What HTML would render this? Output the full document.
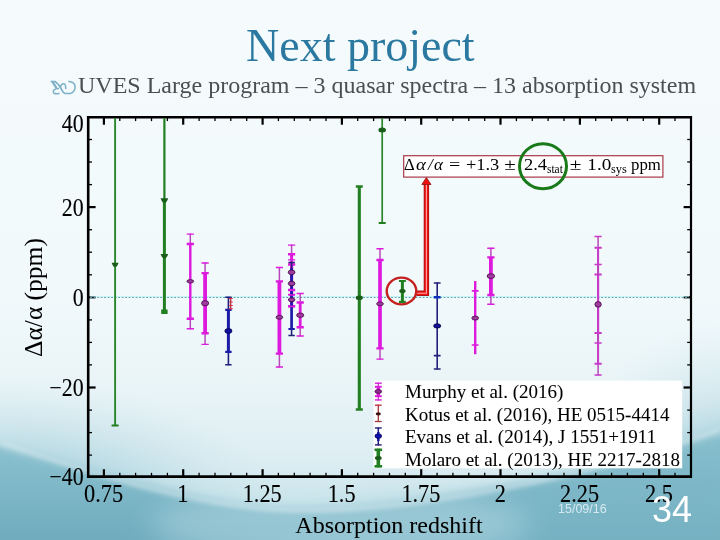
<!DOCTYPE html>
<html><head><meta charset="utf-8"><style>
html,body{margin:0;padding:0;}
body{width:720px;height:540px;position:relative;overflow:hidden;background:#f4fafc;}
.t{position:absolute;white-space:nowrap;line-height:1;will-change:transform;}
svg{will-change:transform;}
</style></head><body>

<svg width="720" height="540" style="position:absolute;left:0;top:0">
<defs>
<linearGradient id="g0" x1="0" y1="0" x2="0" y2="1">
 <stop offset="0" stop-color="#f5fbfd"/>
 <stop offset="0.55" stop-color="#f1f9fb"/>
 <stop offset="0.72" stop-color="#e9f4f7"/>
 <stop offset="0.86" stop-color="#dcedf2"/>
 <stop offset="1" stop-color="#c4e1e8"/>
</linearGradient>
<linearGradient id="g1" x1="0" y1="430" x2="0" y2="540" gradientUnits="userSpaceOnUse">
 <stop offset="0" stop-color="#8fc4d1"/>
 <stop offset="0.5" stop-color="#7fb8c8"/>
 <stop offset="1" stop-color="#6eabbe"/>
</linearGradient>
<radialGradient id="rg" cx="0" cy="540" r="300" gradientUnits="userSpaceOnUse" gradientTransform="translate(0,540) scale(1.0,0.55) translate(0,-540)">
 <stop offset="0" stop-color="#76b2c4" stop-opacity="0.9"/>
 <stop offset="0.5" stop-color="#98c9d6" stop-opacity="0.6"/>
 <stop offset="1" stop-color="#c8e3ea" stop-opacity="0"/>
</radialGradient>
<radialGradient id="rg2" cx="720" cy="540" r="240" gradientUnits="userSpaceOnUse" gradientTransform="translate(720,540) scale(0.7,0.9) translate(-720,-540)">
 <stop offset="0" stop-color="#78b3c4" stop-opacity="0.8"/>
 <stop offset="0.6" stop-color="#a5d0db" stop-opacity="0.4"/>
 <stop offset="1" stop-color="#c8e3ea" stop-opacity="0"/>
</radialGradient>
<filter id="bl" x="-10%" y="-20%" width="120%" height="140%"><feGaussianBlur stdDeviation="5"/></filter>
<filter id="bl2" x="-30%" y="-80%" width="160%" height="260%"><feGaussianBlur stdDeviation="14"/></filter>
<filter id="bl3" x="-10%" y="-20%" width="120%" height="140%"><feGaussianBlur stdDeviation="2"/></filter>
</defs>
<rect width="720" height="540" fill="url(#g0)"/>
<rect width="720" height="540" fill="url(#rg)"/>
<rect width="720" height="540" fill="url(#rg2)"/>
<path d="M-20,441 C100,474 190,503 280,508 C390,513 560,484 740,428 L740,560 L-20,560 Z" fill="url(#g1)" filter="url(#bl)"/>
<path d="M200,540 C300,530 420,500 520,488 C600,478 660,455 740,425 L740,560 L200,560 Z" fill="#7db7c7" opacity="0.5" filter="url(#bl2)"/>
<ellipse cx="340" cy="525" rx="190" ry="38" fill="#bfe0e8" opacity="0.45" filter="url(#bl2)"/>
<path d="M0,443 C100,476 190,505 280,510 C390,515 560,486 720,430" fill="none" stroke="#ffffff" stroke-width="3" opacity="0.4" filter="url(#bl3)"/>
</svg>

<div class="t" id="title" style="left:245.5px;top:23px;font-family:'Liberation Serif',serif;font-size:46px;color:#2b79a0;">Next project</div>
<div class="t" id="sub" style="left:78px;top:73.2px;font-family:'Liberation Serif',serif;font-size:24px;color:#4b4f50;">UVES Large program – 3 quasar spectra – 13 absorption system</div>
<svg width="32" height="20" style="position:absolute;left:48px;top:76.8px" viewBox="0 0 32 20"><g fill="none" stroke="#7cb0c7" stroke-width="1.55" stroke-linecap="round" stroke-linejoin="round"><path d="M3.2,4.4 L7.4,4.4"/><path d="M4.6,4.8 L8.2,10.6" stroke-width="2.2"/><path d="M7.4,4.9 C10,6.5 12,9 13.6,12.6 C14.6,14.8 15.8,16.3 17.4,16.4 L22.2,16.4 C25.6,16 27.3,12.5 27.1,9.6 C26.9,6.6 24.6,4.6 20.9,4.4"/><path d="M12.4,10.2 C12.6,7.4 14.8,6.4 16.4,6.9 C17.4,7.3 17.7,8.4 17.7,11.4"/><path d="M10.4,11.6 C7.2,11.8 4.8,13.2 5.3,15.2 C5.8,16.8 8.4,16.9 11,16.5"/></g></svg>
<svg width="720" height="540" style="position:absolute;left:0;top:0"><line x1="88.2" y1="116.1" x2="88.2" y2="477.8" stroke="#000" stroke-width="2.6"/><line x1="87.0" y1="117.3" x2="692.0" y2="117.3" stroke="#000" stroke-width="2.6"/><line x1="691.0" y1="116.1" x2="691.0" y2="477.8" stroke="#000" stroke-width="2.2"/><line x1="87.0" y1="476.6" x2="692.0" y2="476.6" stroke="#000" stroke-width="2.6"/><line x1="103.9" y1="476.6" x2="103.9" y2="469.20000000000005" stroke="#000" stroke-width="2.2"/><line x1="103.9" y1="117.3" x2="103.9" y2="124.7" stroke="#000" stroke-width="2.2"/><line x1="119.8" y1="476.6" x2="119.8" y2="472.8" stroke="#000" stroke-width="1.3"/><line x1="119.8" y1="117.3" x2="119.8" y2="121.1" stroke="#000" stroke-width="1.3"/><line x1="135.6" y1="476.6" x2="135.6" y2="472.8" stroke="#000" stroke-width="1.3"/><line x1="135.6" y1="117.3" x2="135.6" y2="121.1" stroke="#000" stroke-width="1.3"/><line x1="151.5" y1="476.6" x2="151.5" y2="472.8" stroke="#000" stroke-width="1.3"/><line x1="151.5" y1="117.3" x2="151.5" y2="121.1" stroke="#000" stroke-width="1.3"/><line x1="167.4" y1="476.6" x2="167.4" y2="472.8" stroke="#000" stroke-width="1.3"/><line x1="167.4" y1="117.3" x2="167.4" y2="121.1" stroke="#000" stroke-width="1.3"/><line x1="183.2" y1="476.6" x2="183.2" y2="469.20000000000005" stroke="#000" stroke-width="2.2"/><line x1="183.2" y1="117.3" x2="183.2" y2="124.7" stroke="#000" stroke-width="2.2"/><line x1="199.1" y1="476.6" x2="199.1" y2="472.8" stroke="#000" stroke-width="1.3"/><line x1="199.1" y1="117.3" x2="199.1" y2="121.1" stroke="#000" stroke-width="1.3"/><line x1="215.0" y1="476.6" x2="215.0" y2="472.8" stroke="#000" stroke-width="1.3"/><line x1="215.0" y1="117.3" x2="215.0" y2="121.1" stroke="#000" stroke-width="1.3"/><line x1="230.8" y1="476.6" x2="230.8" y2="472.8" stroke="#000" stroke-width="1.3"/><line x1="230.8" y1="117.3" x2="230.8" y2="121.1" stroke="#000" stroke-width="1.3"/><line x1="246.7" y1="476.6" x2="246.7" y2="472.8" stroke="#000" stroke-width="1.3"/><line x1="246.7" y1="117.3" x2="246.7" y2="121.1" stroke="#000" stroke-width="1.3"/><line x1="262.6" y1="476.6" x2="262.6" y2="469.20000000000005" stroke="#000" stroke-width="2.2"/><line x1="262.6" y1="117.3" x2="262.6" y2="124.7" stroke="#000" stroke-width="2.2"/><line x1="278.4" y1="476.6" x2="278.4" y2="472.8" stroke="#000" stroke-width="1.3"/><line x1="278.4" y1="117.3" x2="278.4" y2="121.1" stroke="#000" stroke-width="1.3"/><line x1="294.3" y1="476.6" x2="294.3" y2="472.8" stroke="#000" stroke-width="1.3"/><line x1="294.3" y1="117.3" x2="294.3" y2="121.1" stroke="#000" stroke-width="1.3"/><line x1="310.1" y1="476.6" x2="310.1" y2="472.8" stroke="#000" stroke-width="1.3"/><line x1="310.1" y1="117.3" x2="310.1" y2="121.1" stroke="#000" stroke-width="1.3"/><line x1="326.0" y1="476.6" x2="326.0" y2="472.8" stroke="#000" stroke-width="1.3"/><line x1="326.0" y1="117.3" x2="326.0" y2="121.1" stroke="#000" stroke-width="1.3"/><line x1="341.9" y1="476.6" x2="341.9" y2="469.20000000000005" stroke="#000" stroke-width="2.2"/><line x1="341.9" y1="117.3" x2="341.9" y2="124.7" stroke="#000" stroke-width="2.2"/><line x1="357.7" y1="476.6" x2="357.7" y2="472.8" stroke="#000" stroke-width="1.3"/><line x1="357.7" y1="117.3" x2="357.7" y2="121.1" stroke="#000" stroke-width="1.3"/><line x1="373.6" y1="476.6" x2="373.6" y2="472.8" stroke="#000" stroke-width="1.3"/><line x1="373.6" y1="117.3" x2="373.6" y2="121.1" stroke="#000" stroke-width="1.3"/><line x1="389.5" y1="476.6" x2="389.5" y2="472.8" stroke="#000" stroke-width="1.3"/><line x1="389.5" y1="117.3" x2="389.5" y2="121.1" stroke="#000" stroke-width="1.3"/><line x1="405.3" y1="476.6" x2="405.3" y2="472.8" stroke="#000" stroke-width="1.3"/><line x1="405.3" y1="117.3" x2="405.3" y2="121.1" stroke="#000" stroke-width="1.3"/><line x1="421.2" y1="476.6" x2="421.2" y2="469.20000000000005" stroke="#000" stroke-width="2.2"/><line x1="421.2" y1="117.3" x2="421.2" y2="124.7" stroke="#000" stroke-width="2.2"/><line x1="437.1" y1="476.6" x2="437.1" y2="472.8" stroke="#000" stroke-width="1.3"/><line x1="437.1" y1="117.3" x2="437.1" y2="121.1" stroke="#000" stroke-width="1.3"/><line x1="452.9" y1="476.6" x2="452.9" y2="472.8" stroke="#000" stroke-width="1.3"/><line x1="452.9" y1="117.3" x2="452.9" y2="121.1" stroke="#000" stroke-width="1.3"/><line x1="468.8" y1="476.6" x2="468.8" y2="472.8" stroke="#000" stroke-width="1.3"/><line x1="468.8" y1="117.3" x2="468.8" y2="121.1" stroke="#000" stroke-width="1.3"/><line x1="484.7" y1="476.6" x2="484.7" y2="472.8" stroke="#000" stroke-width="1.3"/><line x1="484.7" y1="117.3" x2="484.7" y2="121.1" stroke="#000" stroke-width="1.3"/><line x1="500.5" y1="476.6" x2="500.5" y2="469.20000000000005" stroke="#000" stroke-width="2.2"/><line x1="500.5" y1="117.3" x2="500.5" y2="124.7" stroke="#000" stroke-width="2.2"/><line x1="516.4" y1="476.6" x2="516.4" y2="472.8" stroke="#000" stroke-width="1.3"/><line x1="516.4" y1="117.3" x2="516.4" y2="121.1" stroke="#000" stroke-width="1.3"/><line x1="532.3" y1="476.6" x2="532.3" y2="472.8" stroke="#000" stroke-width="1.3"/><line x1="532.3" y1="117.3" x2="532.3" y2="121.1" stroke="#000" stroke-width="1.3"/><line x1="548.1" y1="476.6" x2="548.1" y2="472.8" stroke="#000" stroke-width="1.3"/><line x1="548.1" y1="117.3" x2="548.1" y2="121.1" stroke="#000" stroke-width="1.3"/><line x1="564.0" y1="476.6" x2="564.0" y2="472.8" stroke="#000" stroke-width="1.3"/><line x1="564.0" y1="117.3" x2="564.0" y2="121.1" stroke="#000" stroke-width="1.3"/><line x1="579.9" y1="476.6" x2="579.9" y2="469.20000000000005" stroke="#000" stroke-width="2.2"/><line x1="579.9" y1="117.3" x2="579.9" y2="124.7" stroke="#000" stroke-width="2.2"/><line x1="595.7" y1="476.6" x2="595.7" y2="472.8" stroke="#000" stroke-width="1.3"/><line x1="595.7" y1="117.3" x2="595.7" y2="121.1" stroke="#000" stroke-width="1.3"/><line x1="611.6" y1="476.6" x2="611.6" y2="472.8" stroke="#000" stroke-width="1.3"/><line x1="611.6" y1="117.3" x2="611.6" y2="121.1" stroke="#000" stroke-width="1.3"/><line x1="627.4" y1="476.6" x2="627.4" y2="472.8" stroke="#000" stroke-width="1.3"/><line x1="627.4" y1="117.3" x2="627.4" y2="121.1" stroke="#000" stroke-width="1.3"/><line x1="643.3" y1="476.6" x2="643.3" y2="472.8" stroke="#000" stroke-width="1.3"/><line x1="643.3" y1="117.3" x2="643.3" y2="121.1" stroke="#000" stroke-width="1.3"/><line x1="659.2" y1="476.6" x2="659.2" y2="469.20000000000005" stroke="#000" stroke-width="2.2"/><line x1="659.2" y1="117.3" x2="659.2" y2="124.7" stroke="#000" stroke-width="2.2"/><line x1="675.0" y1="476.6" x2="675.0" y2="472.8" stroke="#000" stroke-width="1.3"/><line x1="675.0" y1="117.3" x2="675.0" y2="121.1" stroke="#000" stroke-width="1.3"/><line x1="88.2" y1="455.1" x2="92.0" y2="455.1" stroke="#000" stroke-width="1.3"/><line x1="691.0" y1="455.1" x2="687.2" y2="455.1" stroke="#000" stroke-width="1.3"/><line x1="88.2" y1="432.6" x2="92.0" y2="432.6" stroke="#000" stroke-width="1.3"/><line x1="691.0" y1="432.6" x2="687.2" y2="432.6" stroke="#000" stroke-width="1.3"/><line x1="88.2" y1="410.1" x2="92.0" y2="410.1" stroke="#000" stroke-width="1.3"/><line x1="691.0" y1="410.1" x2="687.2" y2="410.1" stroke="#000" stroke-width="1.3"/><line x1="88.2" y1="387.5" x2="95.60000000000001" y2="387.5" stroke="#000" stroke-width="2.2"/><line x1="691.0" y1="387.5" x2="683.6" y2="387.5" stroke="#000" stroke-width="2.2"/><line x1="88.2" y1="364.9" x2="92.0" y2="364.9" stroke="#000" stroke-width="1.3"/><line x1="691.0" y1="364.9" x2="687.2" y2="364.9" stroke="#000" stroke-width="1.3"/><line x1="88.2" y1="342.4" x2="92.0" y2="342.4" stroke="#000" stroke-width="1.3"/><line x1="691.0" y1="342.4" x2="687.2" y2="342.4" stroke="#000" stroke-width="1.3"/><line x1="88.2" y1="319.9" x2="92.0" y2="319.9" stroke="#000" stroke-width="1.3"/><line x1="691.0" y1="319.9" x2="687.2" y2="319.9" stroke="#000" stroke-width="1.3"/><line x1="88.2" y1="297.3" x2="95.60000000000001" y2="297.3" stroke="#000" stroke-width="2.2"/><line x1="691.0" y1="297.3" x2="683.6" y2="297.3" stroke="#000" stroke-width="2.2"/><line x1="88.2" y1="274.8" x2="92.0" y2="274.8" stroke="#000" stroke-width="1.3"/><line x1="691.0" y1="274.8" x2="687.2" y2="274.8" stroke="#000" stroke-width="1.3"/><line x1="88.2" y1="252.2" x2="92.0" y2="252.2" stroke="#000" stroke-width="1.3"/><line x1="691.0" y1="252.2" x2="687.2" y2="252.2" stroke="#000" stroke-width="1.3"/><line x1="88.2" y1="229.7" x2="92.0" y2="229.7" stroke="#000" stroke-width="1.3"/><line x1="691.0" y1="229.7" x2="687.2" y2="229.7" stroke="#000" stroke-width="1.3"/><line x1="88.2" y1="207.1" x2="95.60000000000001" y2="207.1" stroke="#000" stroke-width="2.2"/><line x1="691.0" y1="207.1" x2="683.6" y2="207.1" stroke="#000" stroke-width="2.2"/><line x1="88.2" y1="184.6" x2="92.0" y2="184.6" stroke="#000" stroke-width="1.3"/><line x1="691.0" y1="184.6" x2="687.2" y2="184.6" stroke="#000" stroke-width="1.3"/><line x1="88.2" y1="162.0" x2="92.0" y2="162.0" stroke="#000" stroke-width="1.3"/><line x1="691.0" y1="162.0" x2="687.2" y2="162.0" stroke="#000" stroke-width="1.3"/><line x1="88.2" y1="139.5" x2="92.0" y2="139.5" stroke="#000" stroke-width="1.3"/><line x1="691.0" y1="139.5" x2="687.2" y2="139.5" stroke="#000" stroke-width="1.3"/><line x1="90.2" y1="296.6" x2="689.0" y2="296.6" stroke="#a8eef6" stroke-width="1" opacity="0.6"/><line x1="90.2" y1="297.5" x2="689.0" y2="297.5" stroke="#5aa6ae" stroke-width="1" stroke-dasharray="1.8 1.7"/><text transform="translate(83.6,131.7) scale(0.93,1.045)" x="0" y="0" text-anchor="end" font-family="Liberation Serif" font-size="23.5" fill="#000" stroke="#000" stroke-width="0.12">40</text><text transform="translate(83.6,216) scale(0.93,1.045)" x="0" y="0" text-anchor="end" font-family="Liberation Serif" font-size="23.5" fill="#000" stroke="#000" stroke-width="0.12">20</text><text transform="translate(83.6,305.6) scale(0.93,1.045)" x="0" y="0" text-anchor="end" font-family="Liberation Serif" font-size="23.5" fill="#000" stroke="#000" stroke-width="0.12">0</text><text transform="translate(83.6,395.6) scale(0.93,1.045)" x="0" y="0" text-anchor="end" font-family="Liberation Serif" font-size="23.5" fill="#000" stroke="#000" stroke-width="0.12">−20</text><text transform="translate(83.6,484.6) scale(0.93,1.045)" x="0" y="0" text-anchor="end" font-family="Liberation Serif" font-size="23.5" fill="#000" stroke="#000" stroke-width="0.12">−40</text><text transform="translate(103.6,502.2) scale(0.95,1.045)" x="0" y="0" text-anchor="middle" font-family="Liberation Serif" font-size="23.5" fill="#000" stroke="#000" stroke-width="0.12">0.75</text><text transform="translate(182.9,502.2) scale(0.95,1.045)" x="0" y="0" text-anchor="middle" font-family="Liberation Serif" font-size="23.5" fill="#000" stroke="#000" stroke-width="0.12">1</text><text transform="translate(262.2,502.2) scale(0.95,1.045)" x="0" y="0" text-anchor="middle" font-family="Liberation Serif" font-size="23.5" fill="#000" stroke="#000" stroke-width="0.12">1.25</text><text transform="translate(341.6,502.2) scale(0.95,1.045)" x="0" y="0" text-anchor="middle" font-family="Liberation Serif" font-size="23.5" fill="#000" stroke="#000" stroke-width="0.12">1.5</text><text transform="translate(420.9,502.2) scale(0.95,1.045)" x="0" y="0" text-anchor="middle" font-family="Liberation Serif" font-size="23.5" fill="#000" stroke="#000" stroke-width="0.12">1.75</text><text transform="translate(500.2,502.2) scale(0.95,1.045)" x="0" y="0" text-anchor="middle" font-family="Liberation Serif" font-size="23.5" fill="#000" stroke="#000" stroke-width="0.12">2</text><text transform="translate(579.6,502.2) scale(0.95,1.045)" x="0" y="0" text-anchor="middle" font-family="Liberation Serif" font-size="23.5" fill="#000" stroke="#000" stroke-width="0.12">2.25</text><text transform="translate(658.9,502.2) scale(0.95,1.045)" x="0" y="0" text-anchor="middle" font-family="Liberation Serif" font-size="23.5" fill="#000" stroke="#000" stroke-width="0.12">2.5</text><text x="389" y="533" text-anchor="middle" font-family="Liberation Serif" font-size="24" fill="#000" stroke="#000" stroke-width="0.05">Absorption redshift</text><text transform="translate(41.6,297.5) rotate(-90)" text-anchor="middle" font-family="Liberation Serif" font-size="25.5" fill="#000">Δα/α (ppm)</text><defs><clipPath id="pc"><rect x="89.2" y="118.3" width="600.8" height="357.3"/></clipPath></defs><g clip-path="url(#pc)"><line x1="115.1" y1="110" x2="115.1" y2="425.6" stroke="#2a862a" stroke-width="1.9"/><line x1="111.6" y1="425.6" x2="118.6" y2="425.6" stroke="#217f21" stroke-width="2"/><path d="M111.60,262.86 L118.60,262.86 Q117.20,267.26 115.10,267.04 Q113.00,267.26 111.60,262.86 Z" fill="#1a5e1a"/><line x1="164.4" y1="110" x2="164.4" y2="200" stroke="#217f21" stroke-width="2.2"/><line x1="164.4" y1="200" x2="164.4" y2="312" stroke="#217f21" stroke-width="3"/><rect x="161.2" y="309.5" width="6.4" height="4.5" fill="#217f21"/><path d="M160.60,198.32 L168.20,198.32 Q166.68,203.12 164.40,202.88 Q162.12,203.12 160.60,198.32 Z" fill="#1a5e1a"/><path d="M160.60,253.92 L168.20,253.92 Q166.68,258.72 164.40,258.48 Q162.12,258.72 160.60,253.92 Z" fill="#1a5e1a"/><line x1="359.3" y1="186.1" x2="359.3" y2="410" stroke="#217f21" stroke-width="3.1"/><line x1="355.8" y1="186.6" x2="362.8" y2="186.6" stroke="#217f21" stroke-width="2.5"/><line x1="355.8" y1="409.5" x2="362.8" y2="409.5" stroke="#217f21" stroke-width="2.5"/><ellipse cx="359.3" cy="297.8" rx="3.6" ry="2.3" fill="#1a5e1a"/><line x1="382.2" y1="110" x2="382.2" y2="223.2" stroke="#2a862a" stroke-width="1.7"/><line x1="378.7" y1="223" x2="385.7" y2="223" stroke="#217f21" stroke-width="2"/><ellipse cx="382.2" cy="130.1" rx="3.8" ry="2.5" fill="#1a5e1a"/><line x1="402.4" y1="280.4" x2="402.4" y2="302.3" stroke="#217f21" stroke-width="3"/><line x1="399" y1="281" x2="405.8" y2="281" stroke="#217f21" stroke-width="2.2"/><line x1="399" y1="301.8" x2="405.8" y2="301.8" stroke="#217f21" stroke-width="2.2"/><ellipse cx="402.4" cy="291.1" rx="3.2" ry="2.0" fill="#1a5e1a"/><line x1="228.4" y1="296.8" x2="228.4" y2="365.3" stroke="#20207a" stroke-width="1.6"/><line x1="228.4" y1="309.9" x2="228.4" y2="351.9" stroke="#1c1ca8" stroke-width="3"/><line x1="225.20000000000002" y1="297.3" x2="231.6" y2="297.3" stroke="#20207a" stroke-width="1.5"/><line x1="225.20000000000002" y1="364.8" x2="231.6" y2="364.8" stroke="#20207a" stroke-width="1.5"/><line x1="225.20000000000002" y1="309.9" x2="231.6" y2="309.9" stroke="#1c1ca8" stroke-width="2.2"/><line x1="225.20000000000002" y1="351.9" x2="231.6" y2="351.9" stroke="#1c1ca8" stroke-width="2.2"/><ellipse cx="228.4" cy="331" rx="3.6" ry="2.4" fill="#1010a0" stroke="#000040" stroke-width="0.7"/><line x1="437.2" y1="282.6" x2="437.2" y2="369.4" stroke="#20207a" stroke-width="1.6"/><line x1="433.8" y1="283.1" x2="440.59999999999997" y2="283.1" stroke="#20207a" stroke-width="1.5"/><line x1="433.8" y1="368.9" x2="440.59999999999997" y2="368.9" stroke="#20207a" stroke-width="1.5"/><line x1="433.8" y1="297.2" x2="440.59999999999997" y2="297.2" stroke="#1030c0" stroke-width="2.4"/><line x1="433.8" y1="355.7" x2="440.59999999999997" y2="355.7" stroke="#20207a" stroke-width="1.8"/><ellipse cx="437.2" cy="325.9" rx="3.6" ry="2.2" fill="#101090" stroke="#000040" stroke-width="0.7"/><line x1="190.3" y1="233.6" x2="190.3" y2="329.2" stroke="#b848b8" stroke-width="1.5"/><line x1="190.3" y1="244.0" x2="190.3" y2="318.75" stroke="#dd1add" stroke-width="2.4"/><line x1="186.70000000000002" y1="234.1" x2="193.9" y2="234.1" stroke="#dd1add" stroke-width="1.4"/><line x1="186.70000000000002" y1="328.7" x2="193.9" y2="328.7" stroke="#dd1add" stroke-width="1.4"/><line x1="186.70000000000002" y1="244.0" x2="193.9" y2="244.0" stroke="#dd1add" stroke-width="2.4"/><line x1="186.70000000000002" y1="318.75" x2="193.9" y2="318.75" stroke="#dd1add" stroke-width="2.4"/><line x1="205.1" y1="262.5" x2="205.1" y2="344.9" stroke="#b848b8" stroke-width="1.5"/><line x1="205.1" y1="273.1" x2="205.1" y2="333.3" stroke="#dd1add" stroke-width="3.8"/><line x1="201.5" y1="263.0" x2="208.7" y2="263.0" stroke="#dd1add" stroke-width="1.4"/><line x1="201.5" y1="344.4" x2="208.7" y2="344.4" stroke="#dd1add" stroke-width="1.4"/><line x1="201.5" y1="273.1" x2="208.7" y2="273.1" stroke="#dd1add" stroke-width="2.4"/><line x1="201.5" y1="333.3" x2="208.7" y2="333.3" stroke="#dd1add" stroke-width="2.4"/><line x1="279.4" y1="267.0" x2="279.4" y2="367.5" stroke="#b848b8" stroke-width="1.5"/><line x1="279.4" y1="281.4" x2="279.4" y2="353.6" stroke="#dd1add" stroke-width="3.8"/><line x1="275.79999999999995" y1="267.5" x2="283.0" y2="267.5" stroke="#dd1add" stroke-width="1.4"/><line x1="275.79999999999995" y1="367.0" x2="283.0" y2="367.0" stroke="#dd1add" stroke-width="1.4"/><line x1="275.79999999999995" y1="281.4" x2="283.0" y2="281.4" stroke="#dd1add" stroke-width="2.4"/><line x1="275.79999999999995" y1="353.6" x2="283.0" y2="353.6" stroke="#dd1add" stroke-width="2.4"/><line x1="291.6" y1="244.6" x2="291.6" y2="295.0" stroke="#b848b8" stroke-width="1.5"/><line x1="291.6" y1="254.3" x2="291.6" y2="290.0" stroke="#dd1add" stroke-width="3.0"/><line x1="288.0" y1="245.1" x2="295.20000000000005" y2="245.1" stroke="#dd1add" stroke-width="1.4"/><line x1="288.0" y1="294.5" x2="295.20000000000005" y2="294.5" stroke="#dd1add" stroke-width="1.4"/><line x1="288.0" y1="254.3" x2="295.20000000000005" y2="254.3" stroke="#dd1add" stroke-width="2.4"/><line x1="288.0" y1="290.0" x2="295.20000000000005" y2="290.0" stroke="#dd1add" stroke-width="2.4"/><line x1="291.6" y1="259.4" x2="291.6" y2="300.0" stroke="#b848b8" stroke-width="1.5"/><line x1="291.6" y1="264.5" x2="291.6" y2="306.3" stroke="#dd1add" stroke-width="3.0"/><line x1="288.0" y1="259.9" x2="295.20000000000005" y2="259.9" stroke="#dd1add" stroke-width="1.4"/><line x1="288.0" y1="299.5" x2="295.20000000000005" y2="299.5" stroke="#dd1add" stroke-width="1.4"/><line x1="288.0" y1="264.5" x2="295.20000000000005" y2="264.5" stroke="#dd1add" stroke-width="2.4"/><line x1="288.0" y1="306.3" x2="295.20000000000005" y2="306.3" stroke="#dd1add" stroke-width="2.4"/><line x1="300.2" y1="293.0" x2="300.2" y2="336.5" stroke="#b848b8" stroke-width="1.5"/><line x1="300.2" y1="302.5" x2="300.2" y2="327.2" stroke="#dd1add" stroke-width="2.8"/><line x1="296.59999999999997" y1="293.5" x2="303.8" y2="293.5" stroke="#dd1add" stroke-width="1.4"/><line x1="296.59999999999997" y1="336.0" x2="303.8" y2="336.0" stroke="#dd1add" stroke-width="1.4"/><line x1="296.59999999999997" y1="302.5" x2="303.8" y2="302.5" stroke="#dd1add" stroke-width="2.4"/><line x1="296.59999999999997" y1="327.2" x2="303.8" y2="327.2" stroke="#dd1add" stroke-width="2.4"/><line x1="380.0" y1="248.2" x2="380.0" y2="359.6" stroke="#b848b8" stroke-width="1.5"/><line x1="380.0" y1="260.0" x2="380.0" y2="348.4" stroke="#dd1add" stroke-width="3.7"/><line x1="376.4" y1="248.7" x2="383.6" y2="248.7" stroke="#dd1add" stroke-width="1.4"/><line x1="376.4" y1="359.1" x2="383.6" y2="359.1" stroke="#dd1add" stroke-width="1.4"/><line x1="376.4" y1="260.0" x2="383.6" y2="260.0" stroke="#dd1add" stroke-width="2.4"/><line x1="376.4" y1="348.4" x2="383.6" y2="348.4" stroke="#dd1add" stroke-width="2.4"/><line x1="490.9" y1="247.8" x2="490.9" y2="304.8" stroke="#b848b8" stroke-width="1.5"/><line x1="490.9" y1="257.4" x2="490.9" y2="295.0" stroke="#dd1add" stroke-width="3.8"/><line x1="487.29999999999995" y1="248.3" x2="494.5" y2="248.3" stroke="#dd1add" stroke-width="1.4"/><line x1="487.29999999999995" y1="304.3" x2="494.5" y2="304.3" stroke="#dd1add" stroke-width="1.4"/><line x1="487.29999999999995" y1="257.4" x2="494.5" y2="257.4" stroke="#dd1add" stroke-width="2.4"/><line x1="487.29999999999995" y1="295.0" x2="494.5" y2="295.0" stroke="#dd1add" stroke-width="2.4"/><line x1="598.1" y1="236.0" x2="598.1" y2="375.5" stroke="#b848b8" stroke-width="1.5"/><line x1="598.1" y1="247.8" x2="598.1" y2="363.7" stroke="#c83ac8" stroke-width="2.0"/><line x1="594.5" y1="236.5" x2="601.7" y2="236.5" stroke="#c83ac8" stroke-width="1.4"/><line x1="594.5" y1="375.0" x2="601.7" y2="375.0" stroke="#c83ac8" stroke-width="1.4"/><line x1="594.5" y1="247.8" x2="601.7" y2="247.8" stroke="#c83ac8" stroke-width="2.0"/><line x1="594.5" y1="363.7" x2="601.7" y2="363.7" stroke="#c83ac8" stroke-width="2.0"/><line x1="598.1" y1="264.0" x2="598.1" y2="343.5" stroke="#b848b8" stroke-width="1.5"/><line x1="598.1" y1="274.5" x2="598.1" y2="333.0" stroke="#c83ac8" stroke-width="2.0"/><line x1="594.5" y1="264.5" x2="601.7" y2="264.5" stroke="#c83ac8" stroke-width="1.4"/><line x1="594.5" y1="343.0" x2="601.7" y2="343.0" stroke="#c83ac8" stroke-width="1.4"/><line x1="594.5" y1="274.5" x2="601.7" y2="274.5" stroke="#c83ac8" stroke-width="2.0"/><line x1="594.5" y1="333.0" x2="601.7" y2="333.0" stroke="#c83ac8" stroke-width="2.0"/><line x1="291.6" y1="262" x2="291.6" y2="336" stroke="#20207a" stroke-width="1.6"/><line x1="291.6" y1="268" x2="291.6" y2="329" stroke="#1c1ca8" stroke-width="2.6"/><line x1="288.40000000000003" y1="335.5" x2="294.8" y2="335.5" stroke="#20207a" stroke-width="1.5"/><line x1="288.40000000000003" y1="329" x2="294.8" y2="329" stroke="#1c1ca8" stroke-width="2.2"/><line x1="288.40000000000003" y1="262.5" x2="294.8" y2="262.5" stroke="#20207a" stroke-width="1.4"/><line x1="288.20000000000005" y1="306.3" x2="295.0" y2="306.3" stroke="#dd1add" stroke-width="1.8"/><line x1="288.20000000000005" y1="290" x2="295.0" y2="290" stroke="#dd1add" stroke-width="1.8"/><line x1="288.20000000000005" y1="295" x2="295.0" y2="295" stroke="#dd1add" stroke-width="1.4"/><line x1="475.2" y1="281.0" x2="475.2" y2="354.3" stroke="#dd1add" stroke-width="2.4"/><line x1="471.8" y1="290.9" x2="478.59999999999997" y2="290.9" stroke="#dd1add" stroke-width="1.6"/><line x1="471.8" y1="345.0" x2="478.59999999999997" y2="345.0" stroke="#dd1add" stroke-width="1.6"/><line x1="230.7" y1="297.6" x2="230.7" y2="309.4" stroke="#b03040" stroke-width="1.3"/><line x1="228.8" y1="298.5" x2="232.8" y2="298.5" stroke="#e03050" stroke-width="1.1"/><line x1="228.8" y1="302" x2="232.8" y2="302" stroke="#e03050" stroke-width="1.1"/><line x1="228.8" y1="305.5" x2="232.8" y2="305.5" stroke="#e03050" stroke-width="1.1"/><line x1="228.8" y1="308.8" x2="232.8" y2="308.8" stroke="#e03050" stroke-width="1.1"/><ellipse cx="190.3" cy="281.3" rx="3.4" ry="1.7" fill="#a03ca0" stroke="#300030" stroke-width="0.7"/><ellipse cx="205.1" cy="303.2" rx="3.6" ry="2.6" fill="#a03ca0" stroke="#300030" stroke-width="0.7"/><ellipse cx="279.4" cy="317.3" rx="3.4" ry="1.9" fill="#a03ca0" stroke="#300030" stroke-width="0.7"/><ellipse cx="291.6" cy="272.3" rx="3.4" ry="2.3" fill="#a03ca0" stroke="#300030" stroke-width="0.7"/><ellipse cx="291.6" cy="283.5" rx="3.4" ry="2.3" fill="#a03ca0" stroke="#300030" stroke-width="0.7"/><ellipse cx="291.6" cy="299.8" rx="3.2" ry="2.0" fill="#a03ca0" stroke="#300030" stroke-width="0.7"/><ellipse cx="300.2" cy="315.2" rx="3.6" ry="2.2" fill="#a03ca0" stroke="#300030" stroke-width="0.7"/><ellipse cx="380" cy="303.8" rx="3.4" ry="1.9" fill="#a03ca0" stroke="#300030" stroke-width="0.7"/><ellipse cx="475.2" cy="318.1" rx="3.4" ry="2.0" fill="#a03ca0" stroke="#300030" stroke-width="0.7"/><ellipse cx="490.9" cy="276.1" rx="3.8" ry="2.4" fill="#a03ca0" stroke="#300030" stroke-width="0.7"/><ellipse cx="598.1" cy="304.4" rx="3.2" ry="2.8" fill="#a03ca0" stroke="#300030" stroke-width="0.7"/></g><rect x="403.7" y="155.7" width="259.2" height="21.4" fill="#ffffff" stroke="#a83848" stroke-width="1.2"/><text transform="translate(404.02,170) scale(0.98,1)" x="0" y="0" font-family="Liberation Serif" font-size="17" fill="#000">Δ</text><text transform="translate(416.0,170) scale(1.111,1)" x="0" y="0" font-family="Liberation Serif" font-size="17" font-style="italic" fill="#000">α</text><text transform="translate(428.0,170) scale(1.0,1)" x="0" y="0" font-family="Liberation Serif" font-size="17" font-style="italic" fill="#000">/</text><text transform="translate(434.0,170) scale(1.0,1)" x="0" y="0" font-family="Liberation Serif" font-size="17" font-style="italic" fill="#000">α</text><text transform="translate(449.02,170) scale(1.175,1)" x="0" y="0" font-family="Liberation Serif" font-size="17" fill="#000">=</text><text transform="translate(465.92,170) scale(1.083,1)" x="0" y="0" font-family="Liberation Serif" font-size="17" fill="#000">+1.3</text><text transform="translate(504.36,170) scale(1.237,1)" x="0" y="0" font-family="Liberation Serif" font-size="17" fill="#000">±</text><text transform="translate(523.92,170) scale(1.085,1)" x="0" y="0" font-family="Liberation Serif" font-size="17" fill="#000">2.4</text><text transform="translate(547.0,173) scale(0.994,1)" x="0" y="0" font-family="Liberation Serif" font-size="11.5" fill="#000">stat</text><text transform="translate(569.75,170) scale(1.25,1)" x="0" y="0" font-family="Liberation Serif" font-size="17" fill="#000">±</text><text transform="translate(587.35,170) scale(1.126,1)" x="0" y="0" font-family="Liberation Serif" font-size="17" fill="#000">1.0</text><text transform="translate(611.0,173) scale(1.071,1)" x="0" y="0" font-family="Liberation Serif" font-size="11.5" fill="#000">sys</text><text transform="translate(631.0,170) scale(0.99,1)" x="0" y="0" font-family="Liberation Serif" font-size="17" fill="#000">ppm</text><ellipse cx="543" cy="166.2" rx="23.5" ry="22.5" fill="none" stroke="#187a18" stroke-width="3"/><path d="M416.5,293.2 L426.4,293.2 L426.4,183" fill="none" stroke="#b01414" stroke-width="5.4"/><path d="M416.5,293.2 L426.4,293.2 L426.4,183" fill="none" stroke="#ee1111" stroke-width="3.6"/><path d="M416.5,293.2 L426.4,293.2 L426.4,184" fill="none" stroke="#ffb8b8" stroke-width="1.1" opacity="0.9"/><path d="M421.8,184.5 L426.4,177.6 L431,184.5 Z" fill="#ee1111" stroke="#8a1010" stroke-width="0.8"/><ellipse cx="401.5" cy="291" rx="14.8" ry="13.4" fill="none" stroke="#c42020" stroke-width="2.4"/><rect x="373.5" y="380.6" width="308.7" height="87.7" fill="#ffffff"/><line x1="378.3" y1="382.6" x2="378.3" y2="400.5" stroke="#c050c0" stroke-width="1.4"/><line x1="378.3" y1="386.5" x2="378.3" y2="396.5" stroke="#dd1add" stroke-width="3.2"/><line x1="374.90000000000003" y1="383.2" x2="381.7" y2="383.2" stroke="#dd1add" stroke-width="1.4"/><line x1="374.90000000000003" y1="399.9" x2="381.7" y2="399.9" stroke="#dd1add" stroke-width="1.4"/><line x1="374.90000000000003" y1="386.8" x2="381.7" y2="386.8" stroke="#dd1add" stroke-width="2"/><line x1="374.90000000000003" y1="396.2" x2="381.7" y2="396.2" stroke="#dd1add" stroke-width="2"/><ellipse cx="378.3" cy="391.4" rx="3.4" ry="2" fill="#8a2a8a" stroke="#300030" stroke-width="0.6"/><line x1="378.3" y1="404.6" x2="378.3" y2="422.1" stroke="#a03838" stroke-width="1.3"/><line x1="374.90000000000003" y1="405.2" x2="381.7" y2="405.2" stroke="#c03040" stroke-width="1.3"/><line x1="374.90000000000003" y1="421.5" x2="381.7" y2="421.5" stroke="#a03838" stroke-width="1.3"/><ellipse cx="378.3" cy="413.8" rx="2.6" ry="1.6" fill="#401010"/><line x1="378.3" y1="427.4" x2="378.3" y2="445.5" stroke="#20207a" stroke-width="1.5"/><line x1="378.3" y1="432" x2="378.3" y2="441" stroke="#1c1ca8" stroke-width="2.6"/><line x1="374.90000000000003" y1="428.0" x2="381.7" y2="428.0" stroke="#20207a" stroke-width="1.4"/><line x1="374.90000000000003" y1="444.9" x2="381.7" y2="444.9" stroke="#20207a" stroke-width="1.4"/><ellipse cx="378.3" cy="436.1" rx="3.4" ry="2.3" fill="#1010b0" stroke="#000040" stroke-width="0.6"/><line x1="378.3" y1="448.8" x2="378.3" y2="467.3" stroke="#217f21" stroke-width="3.6"/><line x1="374.5" y1="449.8" x2="382.1" y2="449.8" stroke="#217f21" stroke-width="2.6"/><line x1="374.5" y1="466.3" x2="382.1" y2="466.3" stroke="#217f21" stroke-width="2.6"/><ellipse cx="378.3" cy="458" rx="3.4" ry="2" fill="#1a5a1a"/><text x="405" y="398.2" font-family="Liberation Serif" font-size="19" fill="#000" stroke="#000" stroke-width="0.05">Murphy et al. (2016)</text><text x="405" y="420.8" font-family="Liberation Serif" font-size="19" fill="#000" stroke="#000" stroke-width="0.05">Kotus et al. (2016), HE 0515-4414</text><text x="405" y="443.4" font-family="Liberation Serif" font-size="19" fill="#000" stroke="#000" stroke-width="0.05">Evans et al. (2014), J 1551+1911</text><text x="405" y="466.0" font-family="Liberation Serif" font-size="19" fill="#000" stroke="#000" stroke-width="0.05">Molaro et al. (2013), HE 2217-2818</text></svg>
<div class="t" style="left:557.5px;top:502.6px;font-family:'Liberation Sans',sans-serif;font-size:12.5px;color:#e0f0f4;opacity:0.9;">15/09/16</div>
<div class="t" style="left:652px;top:492px;font-family:'Liberation Sans',sans-serif;font-size:36px;color:#ffffff;">34</div>
</body></html>
